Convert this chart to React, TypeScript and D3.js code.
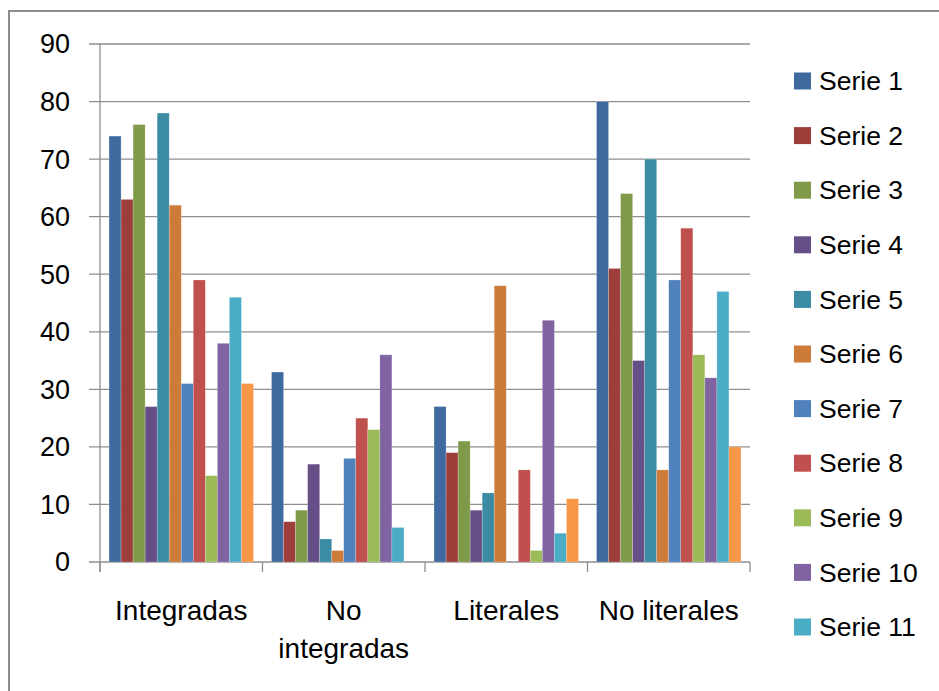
import React, { useEffect } from 'react'
import * as d3 from 'd3'

const categories = ['Integradas', 'No integradas', 'Literales', 'No literales']
const categoryLines = [['Integradas'], ['No', 'integradas'], ['Literales'], ['No literales']]
const seriesNames = ['Serie 1', 'Serie 2', 'Serie 3', 'Serie 4', 'Serie 5', 'Serie 6',
  'Serie 7', 'Serie 8', 'Serie 9', 'Serie 10', 'Serie 11', 'Serie 12']
// one row per series, one value per category
const seriesValues = [
  [74, 33, 27, 80],
  [63, 7, 19, 51],
  [76, 9, 21, 64],
  [27, 17, 9, 35],
  [78, 4, 12, 70],
  [62, 2, 48, 16],
  [31, 18, 0, 49],
  [49, 25, 16, 58],
  [15, 23, 2, 36],
  [38, 36, 42, 32],
  [46, 6, 5, 47],
  [31, 0, 11, 20],
]
const seriesColors = ['#3f6a9f', '#9e3e3b', '#7f9a48', '#664f86', '#3c8ba4', '#cc7b38',
  '#4f81bd', '#c0504d', '#9bbb59', '#8064a2', '#4bacc6', '#f79646']
const yTicks = [0, 10, 20, 30, 40, 50, 60, 70, 80, 90]
// legend in the picture stops at Serie 11
const legendCount = 11

const W = 939
const H = 691
const font = '"Liberation Sans", Arial, sans-serif'
const gridColor = '#8e8e8e'

export default function App() {
  useEffect(() => { document.body.style.margin = '0' }, [])

  const x0 = d3.scaleBand<string>().domain(categories).range([100, 750])
  const x1 = d3.scaleBand<string>().domain(seriesNames)
    .range([0, x0.bandwidth()]).paddingInner(0).paddingOuter(0.75)
  const y = d3.scaleLinear().domain([0, 90]).range([562, 44])

  const legendY = d3.scalePoint<string>()
    .domain(seriesNames.slice(0, legendCount)).range([81, 627])

  const catTicks = categories.map(c => x0(c)!).concat([x0.range()[1]])

  return (
    <svg width={W} height={H} style={{ display: 'block', background: '#fff' }}>
      <rect x={0} y={0} width={W} height={H} fill="#fff" />
      {/* outer chart frame */}
      <line x1={9} x2={W} y1={11} y2={11} stroke="#8c8c8c" strokeWidth={2} />
      <line x1={9} x2={9} y1={10} y2={H} stroke="#8c8c8c" strokeWidth={2} />

      {/* gridlines + y ticks */}
      {yTicks.map(t => (
        <g key={t}>
          <line x1={89} x2={750} y1={y(t)} y2={y(t)} stroke={gridColor} strokeWidth={1.3} />
          <text x={70} y={y(t)} dy="0.35em" textAnchor="end" fontFamily={font} fontSize={27} fill="#000">{t}</text>
        </g>
      ))}
      <line x1={100} x2={100} y1={y(90)} y2={572} stroke={gridColor} strokeWidth={1.3} />
      {catTicks.map((cx, i) => (
        <line key={i} x1={cx} x2={cx} y1={y(0)} y2={572} stroke={gridColor} strokeWidth={1.3} />
      ))}

      {/* bars */}
      {seriesNames.map((s, si) => (
        <g key={s} fill={seriesColors[si]}>
          {categories.map((c, ci) => {
            const v = seriesValues[si][ci]
            if (!v) return null
            return (
              <rect key={c}
                x={x0(c)! + x1(s)!}
                y={y(v)}
                width={x1.bandwidth()}
                height={y(0) - y(v)}
                stroke="#ffffff" strokeOpacity={0.35} strokeWidth={0.6} />
            )
          })}
        </g>
      ))}

      {/* category labels */}
      {categories.map((c, ci) => (
        <text key={c} x={x0(c)! + x0.bandwidth() / 2} y={620} textAnchor="middle"
          fontFamily={font} fontSize={28} fill="#000">
          {categoryLines[ci].map((ln, li) => (
            <tspan key={li} x={x0(c)! + x0.bandwidth() / 2} dy={li === 0 ? 0 : 38}>{ln}</tspan>
          ))}
        </text>
      ))}

      {/* legend */}
      {seriesNames.slice(0, legendCount).map((s, si) => (
        <g key={s} transform={`translate(794,${legendY(s)})`}>
          <rect x={0} y={-8.5} width={17} height={17} fill={seriesColors[si]} />
          <text x={25} y={0} dy="0.35em" fontFamily={font} fontSize={26.5} fill="#000">{s}</text>
        </g>
      ))}
    </svg>
  )
}
